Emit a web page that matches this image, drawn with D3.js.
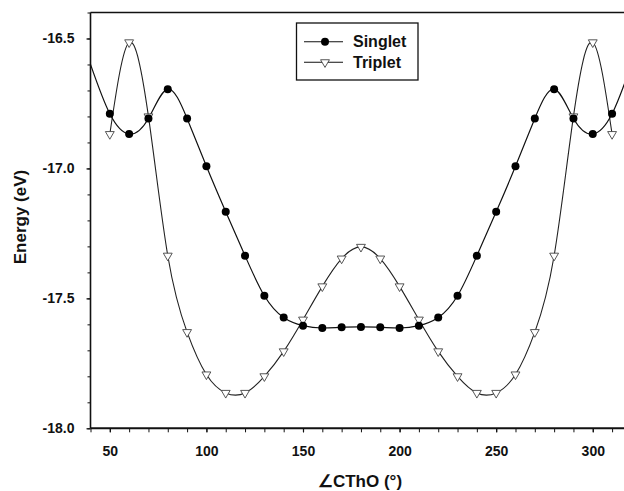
<!DOCTYPE html>
<html>
<head>
<meta charset="utf-8">
<script src="https://cdn.jsdelivr.net/npm/d3@7"></script>
<style>
  html, body { margin: 0; padding: 0; background: #fff; }
  svg { display: block; font-family: Arial, "Liberation Sans", sans-serif; }
</style>
</head>
<body>
<svg id="chart" width="624" height="491"></svg>
<script>
// ---- data ----
const singletAngles = [50,60,70,80,90,100,110,120,130,140,150,160,170,180,190,200,210,220,230,240,250,260,270,280,290,300,310];
const singletEnergy = [-16.79,-16.868,-16.808,-16.695,-16.808,-16.992,-17.167,-17.336,-17.49,-17.574,-17.605,-17.614,-17.611,-17.61,-17.611,-17.614,-17.605,-17.574,-17.49,-17.336,-17.167,-16.992,-16.808,-16.695,-16.808,-16.868,-16.79];
// curve continues past the plotted markers at both ends
const singletEdgeAngles = [40, 320];
const singletEdgeEnergy = [-16.60, -16.60];

const tripletAngles = [50,60,70,80,90,100,110,120,130,140,150,160,170,180,190,200,210,220,230,240,250,260,270,280,290,300,310];
const tripletEnergy = [-16.868,-16.515,-16.80,-17.336,-17.63,-17.793,-17.864,-17.864,-17.80,-17.704,-17.582,-17.454,-17.347,-17.302,-17.347,-17.454,-17.582,-17.704,-17.80,-17.864,-17.864,-17.793,-17.63,-17.336,-16.80,-16.515,-16.868];

const xDomain = [40, 320];
const yDomain = [-18.0, -16.4];
const xTickLabels = [50, 100, 150, 200, 250, 300];
const xMinorTicks = [40,50,60,70,80,90,100,110,120,130,140,150,160,170,180,190,200,210,220,230,240,250,260,270,280,290,300,310,320];
const yTickLabels = [-18.0, -17.5, -17.0, -16.5];
const yMinorTicks = [-18.0,-17.9,-17.8,-17.7,-17.6,-17.5,-17.4,-17.3,-17.2,-17.1,-17.0,-16.9,-16.8,-16.7,-16.6,-16.5,-16.4];
const seriesNames = ["Singlet", "Triplet"];
const xTitle = "\u2220CThO (\u00b0)";
const yTitle = "Energy (eV)";

// ---- layout ----
const svg = d3.select("#chart");
const pLeft = 90.5, pRight = 631.4, pTop = 12.5, pBottom = 428.3;
const x = d3.scaleLinear().domain(xDomain).range([pLeft, pRight]);
const y = d3.scaleLinear().domain(yDomain).range([pBottom, pTop]);

svg.append("defs").append("clipPath").attr("id", "plotclip")
  .append("rect").attr("x", pLeft).attr("y", pTop - 10).attr("width", pRight - pLeft).attr("height", pBottom - pTop + 10);

// frame top line
svg.append("line").attr("x1", pLeft).attr("x2", pRight).attr("y1", pTop).attr("y2", pTop)
  .attr("stroke", "#111").attr("stroke-width", 1.6);

// x axis minor ticks
const gxMinor = svg.append("g").attr("transform", `translate(0,${pBottom})`)
  .call(d3.axisBottom(x).tickValues(xMinorTicks).tickSize(4).tickFormat(""));
gxMinor.select(".domain").remove();
gxMinor.selectAll("line").attr("stroke", "#111").attr("stroke-width", 1);

// x axis major labels
const gx = svg.append("g").attr("transform", `translate(0,${pBottom})`)
  .call(d3.axisBottom(x).tickValues(xTickLabels).tickSize(4).tickPadding(13.5).tickFormat(d => String(d)));
gx.select(".domain").attr("stroke", "#111").attr("stroke-width", 2).attr("d", `M${pLeft},0H${pRight}`);
gx.selectAll("line").attr("stroke", "#111").attr("stroke-width", 1.2);
gx.selectAll("text").attr("font-size", 14).attr("font-weight", "bold").attr("fill", "#111")
  .attr("font-family", "Arial, 'Liberation Sans', sans-serif");

// y axis minor ticks
const gyMinor = svg.append("g").attr("transform", `translate(${pLeft},0)`)
  .call(d3.axisLeft(y).tickValues(yMinorTicks).tickSize(3).tickFormat(""));
gyMinor.select(".domain").remove();
gyMinor.selectAll("line").attr("stroke", "#111").attr("stroke-width", 1);

// y axis major
const gy = svg.append("g").attr("transform", `translate(${pLeft},0)`)
  .call(d3.axisLeft(y).tickValues(yTickLabels).tickSize(4).tickPadding(12).tickFormat(d => d.toFixed(1)));
gy.select(".domain").attr("stroke", "#111").attr("stroke-width", 1.6).attr("d", `M0,${pTop}V${pBottom}`);
gy.selectAll("line").attr("stroke", "#111").attr("stroke-width", 1.2);
gy.selectAll("text").attr("font-size", 14).attr("font-weight", "bold").attr("fill", "#111")
  .attr("font-family", "Arial, 'Liberation Sans', sans-serif");

// axis titles
svg.append("text").attr("x", 360).attr("y", 487).attr("text-anchor", "middle")
  .attr("font-size", 17).attr("font-weight", "bold").attr("fill", "#111").text(xTitle);
svg.append("text").attr("transform", "translate(26,217) rotate(-90)").attr("text-anchor", "middle")
  .attr("font-size", 17).attr("font-weight", "bold").attr("fill", "#111").text(yTitle);

// ---- series ----
const plot = svg.append("g").attr("clip-path", "url(#plotclip)");
const line = d3.line().x(d => x(d[0])).y(d => y(d[1])).curve(d3.curveNatural);

const singletCurve = [[singletEdgeAngles[0], singletEdgeEnergy[0]]]
  .concat(singletAngles.map((a, i) => [a, singletEnergy[i]]))
  .concat([[singletEdgeAngles[1], singletEdgeEnergy[1]]]);
const tripletCurve = tripletAngles.map((a, i) => [a, tripletEnergy[i]]);

plot.append("path").datum(tripletCurve).attr("d", line)
  .attr("fill", "none").attr("stroke", "#222").attr("stroke-width", 1.1);
plot.append("path").datum(singletCurve).attr("d", line)
  .attr("fill", "none").attr("stroke", "#111").attr("stroke-width", 1.2);

const tri = d3.symbol().type(d3.symbolTriangle).size(34);
plot.selectAll(".tri").data(tripletCurve).enter().append("path")
  .attr("d", tri)
  .attr("transform", d => `translate(${x(d[0])},${y(d[1])}) rotate(180)`)
  .attr("fill", "#fff").attr("stroke", "#444").attr("stroke-width", 0.9);

plot.selectAll(".dot").data(singletAngles.map((a, i) => [a, singletEnergy[i]])).enter().append("circle")
  .attr("cx", d => x(d[0])).attr("cy", d => y(d[1])).attr("r", 4)
  .attr("fill", "#000");

// ---- legend ----
const lg = svg.append("g");
lg.append("rect").attr("x", 296.5).attr("y", 23).attr("width", 121.5).attr("height", 57)
  .attr("fill", "#fff").attr("stroke", "#111").attr("stroke-width", 1.3);
const rows = [41.7, 62.3];
seriesNames.forEach((name, i) => {
  lg.append("line").attr("x1", 304).attr("x2", 343).attr("y1", rows[i]).attr("y2", rows[i])
    .attr("stroke", "#111").attr("stroke-width", 1.1);
  if (i === 0) {
    lg.append("circle").attr("cx", 325).attr("cy", rows[i]).attr("r", 4).attr("fill", "#000");
  } else {
    lg.append("path").attr("d", tri).attr("transform", `translate(325,${rows[i]}) rotate(180)`)
      .attr("fill", "#fff").attr("stroke", "#444").attr("stroke-width", 0.9);
  }
  lg.append("text").attr("x", 353).attr("y", rows[i]).attr("dy", "0.36em")
    .attr("font-size", 16).attr("font-weight", "bold").attr("fill", "#111").text(name);
});
</script>
</body>
</html>
